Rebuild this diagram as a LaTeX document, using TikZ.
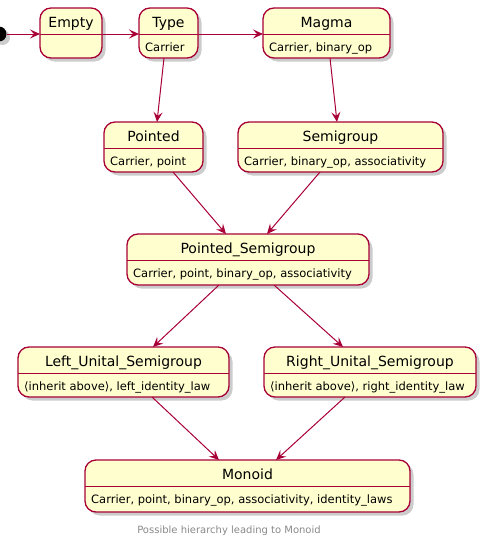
\documentclass[tikz,border=0pt]{standalone}
\usepackage{fontspec}
\setmainfont{DejaVu Sans}
\usetikzlibrary{arrows.meta,shadows,calc}
\definecolor{umlred}{HTML}{A80036}
\definecolor{umlfill}{HTML}{FEFECE}
\definecolor{capgray}{HTML}{888888}
\tikzset{
 statebox/.style={draw=umlred, fill=umlfill, line width=1.3pt, rounded corners=11pt, inner sep=0pt, outer sep=0pt,
   drop shadow={shadow xshift=3.5pt, shadow yshift=-3.5pt, opacity=0.4}},
 divline/.style={draw=umlred, line width=1pt},
 titletxt/.style={font=\fontsize{14}{16}\selectfont, anchor=base, inner sep=0pt},
 attrtxt/.style={font=\fontsize{11.5}{13}\selectfont, anchor=base west, inner sep=0pt},
 arr/.style={draw=umlred, line width=1pt, -{Stealth[length=10pt,width=9pt,inset=4pt]}},
 startdot/.style={circle, fill=black, minimum size=15pt, inner sep=0pt,
   drop shadow={shadow xshift=3.5pt, shadow yshift=-3.5pt, opacity=0.4}},
 captxt/.style={font=\fontsize{10}{12}\selectfont, text=capgray, anchor=base, inner sep=0pt},
}
\newcommand{\ustate}[8]{%
 \pgfmathsetmacro{\uw}{#4-#2}\pgfmathsetmacro{\uh}{#5-#3}%
 \node[statebox, minimum width=\uw pt, minimum height=\uh pt, anchor=north west] (#1) at (#2,#3) {};
 \draw[divline] (#2,#6) -- (#4,#6);
 \node[titletxt] (#1-name) at ({(#2+#4)/2},{#3+19.5}) {#7};
 \node[attrtxt] (#1-attr) at ({#2+6},{#6+17}) {#8};
}
\begin{document}
\begin{tikzpicture}[x=1pt,y=-1pt]
\useasboundingbox (0,0) rectangle (480,538);
\clip (0,0) rectangle (480,538);
\node[startdot] (start) at (-1,34) {};
\ustate{empty}{40}{8}{102}{58}{34}{Empty}{}
\ustate{type}{139}{8}{198}{58}{34}{Type}{Carrier}
\ustate{magma}{263}{8}{390}{58}{34}{Magma}{Carrier, binary\_op}
\ustate{pointed}{104}{122}{203}{172}{148}{Pointed}{Carrier, point}
\ustate{semigroup}{238}{122}{443}{172}{148}{Semigroup}{Carrier, binary\_op, associativity}
\ustate{ps}{127}{234}{369}{285}{260}{Pointed\_Semigroup}{Carrier, point, binary\_op, associativity}
\ustate{left}{18}{347}{229}{397}{373}{Left\_Unital\_Semigroup}{\char"27E8 inherit above\char"27E9, left\_identity\_law}
\ustate{right}{264}{347}{476}{397}{373}{Right\_Unital\_Semigroup}{\char"27E8 inherit above\char"27E9, right\_identity\_law}
\ustate{monoid}{85}{460}{410}{512}{486}{Monoid}{Carrier, point, binary\_op, associativity, identity\_laws}
\node[captxt] (caption) at (229,533) {Possible hierarchy leading to Monoid};
\draw[arr] (start.east) -- ([yshift=-1pt]empty.west);
\draw[arr] ([yshift=-1pt]empty.east) -- ([yshift=-1pt]type.west);
\draw[arr] ([yshift=-1pt]type.east) -- ([yshift=-1pt]magma.west);
\draw[arr] ([xshift=-4.5pt]type.south) -- ([xshift=3.5pt]pointed.north);
\draw[arr] ([xshift=3.5pt]magma.south) -- ([xshift=-3.5pt]semigroup.north);
\draw[arr] ([xshift=19.5pt]pointed.south) -- ([xshift=-22pt]ps.north);
\draw[arr] ([xshift=-20.5pt]semigroup.south) -- ([xshift=19pt]ps.north);
\draw[arr] ([xshift=-29pt]ps.south) -- ([xshift=29.5pt]left.north);
\draw[arr] ([xshift=26pt]ps.south) -- ([xshift=-27pt]right.north);
\draw[arr] ([xshift=28.5pt]left.south) -- ([xshift=-28.5pt]monoid.north);
\draw[arr] ([xshift=-25pt]right.south) -- ([xshift=28.5pt]monoid.north);
\end{tikzpicture}
\end{document}
